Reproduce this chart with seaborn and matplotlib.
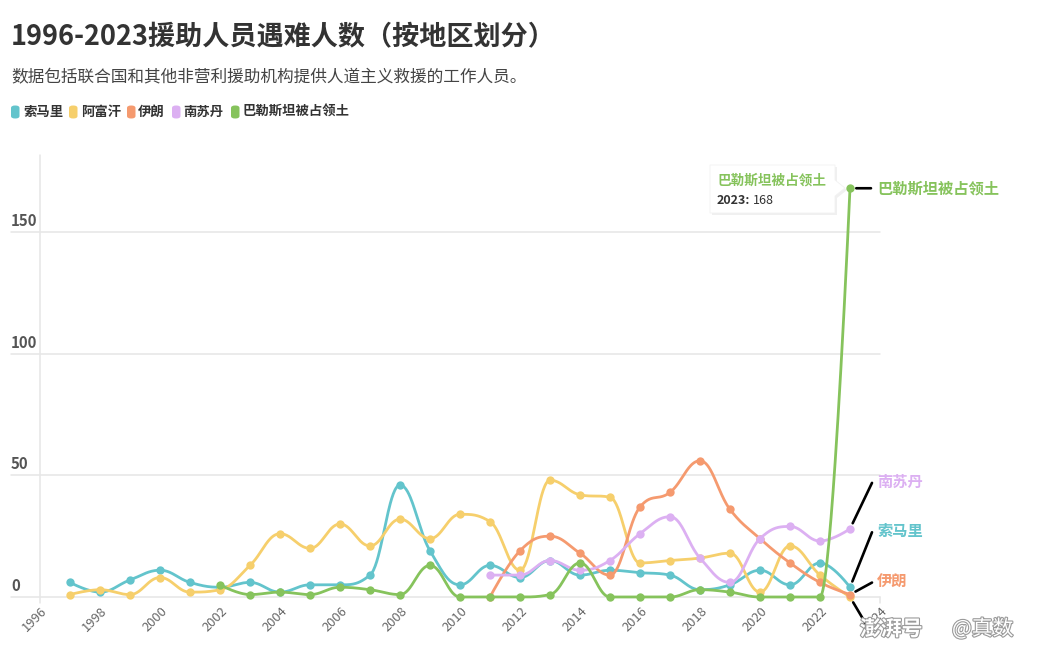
import numpy as np
import pandas as pd
import matplotlib
matplotlib.use("Agg")
import matplotlib.pyplot as plt
import seaborn as sns
from matplotlib.patches import FancyBboxPatch, Polygon
from matplotlib.transforms import ScaledTranslation
import matplotlib.patheffects as pe

# ---------------- data ----------------
years_all = list(range(1997, 2024))
somalia = [6, 2, 7, 11, 6, 4, 6, 2, 5, 5, 9, 46, 19, 5, 13, 8, 15, 9, 11, 10, 9, 3, 5, 11, 5, 14, 4]
afghanistan = [1, 3, 1, 8, 2, 3, 13, 26, 20, 30, 21, 32, 24, 34, 31, 11, 48, 42, 41, 14, 15, 16, 18, 2, 21, 9, 0]
years_2011 = list(range(2011, 2024))
iran = [0, 19, 25, 18, 9, 37, 43, 56, 36, 24, 14, 6, 1]
south_sudan = [9, 9, 15, 11, 15, 26, 33, 16, 6, 24, 29, 23, 28]
years_2002 = list(range(2002, 2024))
palestine = [5, 1, 2, 1, 4, 3, 1, 13, 0, 0, 0, 1, 14, 0, 0, 0, 3, 2, 0, 0, 0, 168]

names = ["索马里", "阿富汗", "伊朗", "南苏丹", "巴勒斯坦被占领土"]
colors = ["#63c4cc", "#f6cf6c", "#f59a6f", "#dcb0f2", "#86c35c"]
xtick_years = list(range(1996, 2025, 2))
ytick_vals = [0, 50, 100, 150]

title = "1996-2023援助人员遇难人数（按地区划分）"
subtitle = "数据包括联合国和其他非营利援助机构提供人道主义救援的工作人员。"

series = [
    (names[0], years_all, somalia),
    (names[1], years_all, afghanistan),
    (names[2], years_2011, iran),
    (names[3], years_2011, south_sudan),
    (names[4], years_2002, palestine),
]

df = pd.concat([pd.DataFrame({"year": x, "value": y, "region": n}) for n, x, y in series],
               ignore_index=True)

# ---------------- style ----------------
sns.set_theme(style="white")
plt.rcParams["font.family"] = ["Noto Sans CJK SC", "DejaVu Sans"]

W, H = 1042, 650
fig = plt.figure(figsize=(W / 100, H / 100), dpi=100)
fig.patch.set_facecolor("white")


def fp(x, y):
    return (x / W, 1 - y / H)


# plot area: gridlines span x=11..880 px, y 155..597 px; 1996 at x=40, 30 px/year
ax = fig.add_axes([11 / W, 53 / H, 869 / W, 442 / H])
ax.set_xlim(1996 - 29 / 30, 2024)
ax.set_ylim(0, 442 / 2.433)
ax.set_facecolor("white")
for s in ax.spines.values():
    s.set_visible(False)


def hc_spline(xs, ys, smoothing=1.5):
    n = len(xs)
    lc = [None] * n
    rc = [None] * n
    d = smoothing + 1
    for i in range(n):
        px, py = xs[i], ys[i]
        if 0 < i < n - 1:
            lx, ly = xs[i - 1], ys[i - 1]
            nx, ny = xs[i + 1], ys[i + 1]
            lcx = (smoothing * px + lx) / d
            lcy = (smoothing * py + ly) / d
            rcx = (smoothing * px + nx) / d
            rcy = (smoothing * py + ny) / d
            if rcx != lcx:
                corr = ((rcy - lcy) * (rcx - px)) / (rcx - lcx) + py - rcy
                lcy += corr
                rcy += corr
            if lcy > ly and lcy > py:
                lcy = max(ly, py); rcy = 2 * py - lcy
            elif lcy < ly and lcy < py:
                lcy = min(ly, py); rcy = 2 * py - lcy
            if rcy > ny and rcy > py:
                rcy = max(ny, py); lcy = 2 * py - rcy
            elif rcy < ny and rcy < py:
                rcy = min(ny, py); lcy = 2 * py - rcy
            lc[i] = (lcx, lcy); rc[i] = (rcx, rcy)
        else:
            lc[i] = (px, py); rc[i] = (px, py)
    t = np.linspace(0, 1, 40)[:, None]
    pts = []
    for i in range(1, n):
        p0 = np.array([xs[i - 1], ys[i - 1]], float)
        p1 = np.array(rc[i - 1], float)
        p2 = np.array(lc[i], float)
        p3 = np.array([xs[i], ys[i]], float)
        seg = (1 - t) ** 3 * p0 + 3 * (1 - t) ** 2 * t * p1 + 3 * (1 - t) * t ** 2 * p2 + t ** 3 * p3
        pts.append(seg if i == 1 else seg[1:])
    arr = np.vstack(pts)
    return arr[:, 0], arr[:, 1]


# grid lines
for v in ytick_vals:
    ax.axhline(v, color="#e6e6e6", lw=1.1, zorder=0)
ax.plot([1996, 1996], [-6 / 2.433, 442 / 2.433], color="#e6e6e6", lw=1.1, zorder=0, clip_on=False)
ax.plot([2024, 2024], [-6 / 2.433, 0], color="#e6e6e6", lw=1.1, zorder=0, clip_on=False)

# series
for k, (n, xs, ys) in enumerate(series):
    cx, cy = hc_spline(xs, ys)
    sns.lineplot(x=cx, y=cy, sort=False, estimator=None, color=colors[k], lw=2.0,
                 ax=ax, zorder=2 + 2 * k, legend=False)
    sub = df[df["region"] == n]
    sns.scatterplot(data=sub, x="year", y="value", color=colors[k], s=36, linewidth=0,
                    ax=ax, zorder=3 + 2 * k, legend=False, clip_on=False)
for ln in ax.lines:
    ln.set_clip_on(False)
    ln.set_solid_capstyle("round")

# ticks
ax.set_xticks(xtick_years)
ax.set_xticklabels([str(y) for y in xtick_years], rotation=45, ha="right", va="center",
                   rotation_mode="anchor", fontsize=9.3, color="#666666")
ax.tick_params(axis="x", length=0, pad=9)
for lab in ax.get_xticklabels():
    lab.set_transform(lab.get_transform() + ScaledTranslation(5 / 100, 0, fig.dpi_scale_trans))
ax.set_yticks(ytick_vals)
ax.set_yticklabels([str(v) for v in ytick_vals], fontsize=10.8, fontweight="bold",
                   color="#555555", ha="left", va="bottom")
ax.tick_params(axis="y", length=0, pad=0)
for lab in ax.get_yticklabels():
    lab.set_transform(lab.get_transform() + ScaledTranslation(0, 3 / 100, fig.dpi_scale_trans))
ax.set_xlabel("")
ax.set_ylabel("")

# end labels with connectors
last = {n: (xs[-1], ys[-1]) for n, xs, ys in series}
conn = {  # connector end offset (px), label offset (px)
    names[4]: ((21, 0), (27, 0)),
    names[3]: ((22, 46), (27, 47)),
    names[0]: ((22, 55), (27, 56)),
    names[2]: ((22, 12), (27, 13)),
    names[1]: ((16, -27), None),
}
for k, n in enumerate(names):
    xy = last[n]
    (lx, ly), lab = conn[n]
    ax.annotate("", xy=xy, xytext=(lx, ly), textcoords="offset pixels",
                arrowprops=dict(arrowstyle="-", lw=1.9, color="black", shrinkA=0, shrinkB=4.5),
                annotation_clip=False, zorder=20)
    if lab is not None:
        ax.annotate(n, xy=xy, xytext=lab, textcoords="offset pixels", ha="left", va="center",
                    fontsize=11, fontweight="bold", color=colors[k], annotation_clip=False,
                    zorder=20)

# tooltip
tip = [(710, 165), (835, 165), (835, 180), (845, 188), (835, 196), (835, 213), (710, 213)]
shadow = Polygon([fp(x + 2, y + 2) for x, y in tip], closed=True, transform=fig.transFigure,
                 facecolor="#000000", alpha=0.06, edgecolor="none", zorder=30)
fig.patches.append(shadow)
box = Polygon([fp(x, y) for x, y in tip], closed=True, transform=fig.transFigure,
              facecolor="white", edgecolor="#f2f2f2", lw=0.6, zorder=31)
fig.patches.append(box)
fig.text(*fp(717, 181), names[4], fontsize=9.8, fontweight="bold", color=colors[4],
         ha="left", va="center", zorder=32)
fig.text(*fp(717, 200), "2023:", fontsize=9, fontweight="bold", color="#333333",
         ha="left", va="center", zorder=32)
fig.text(*fp(753, 200), f"{palestine[-1]}", fontsize=9, color="#333333",
         ha="left", va="center", zorder=32)

# title, subtitle
fig.text(*fp(11, 37), title, fontsize=19.5, fontweight="bold", color="#333333",
         ha="left", va="center")
fig.text(*fp(11, 78), subtitle, fontsize=12, color="#444444", ha="left", va="center")

# legend
leg_sym_x = [11, 69, 127, 172, 231]
leg_txt_x = [23, 81, 138, 183, 243]
for k, n in enumerate(names):
    x0, y0 = fp(leg_sym_x[k], 118.5)
    fig.patches.append(FancyBboxPatch((x0, y0), 8.5 / W, 13 / H,
                                      boxstyle=f"round,pad=0,rounding_size={4 / W}",
                                      transform=fig.transFigure, facecolor=colors[k],
                                      edgecolor="none"))
    fig.text(*fp(leg_txt_x[k], 112), n, fontsize=9.6, fontweight="bold", color="#333333",
             ha="left", va="center")

# watermark
wm = dict(fontsize=15, color="white", ha="left", va="center", zorder=40,
          path_effects=[pe.withStroke(linewidth=1.6, foreground="#9a9a9a")])
fig.text(*fp(860, 629), "澎湃号", fontweight="bold", style="italic", **wm)
fig.text(*fp(952, 629), "@真数", **wm)

fig.savefig("out.png", dpi=100, facecolor="white")
